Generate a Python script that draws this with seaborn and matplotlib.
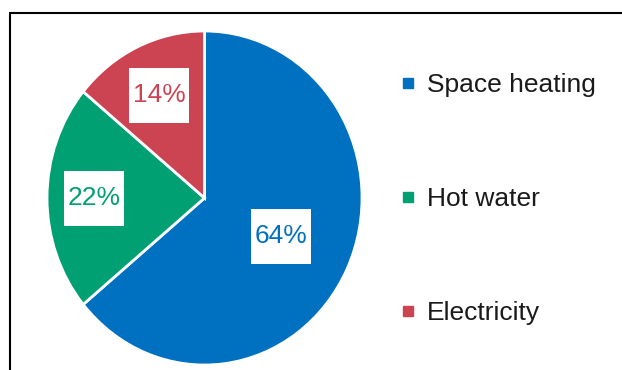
import matplotlib

matplotlib.use("Agg")
import matplotlib.pyplot as plt
import numpy as np
import seaborn as sns
from matplotlib.lines import Line2D
from matplotlib.patches import Rectangle
from matplotlib.transforms import IdentityTransform

# data
CATEGORIES = ["Space heating", "Hot water", "Electricity"]
SHARES = [64, 22, 14]
COLORS = ["#0070C0", "#00A072", "#CC4452"]
LABEL_DIST = [0.54, 0.70, 0.68]

sns.set_theme(style="white")
plt.rcParams["font.family"] = ["Liberation Sans", "DejaVu Sans"]

fig = plt.figure(figsize=(6.22, 3.70), dpi=100)
ax = fig.add_axes([0.0756, 0.0135, 0.5064, 0.9027])

wedges, texts, autotexts = ax.pie(
    SHARES,
    colors=COLORS,
    startangle=90,
    counterclock=False,
    autopct="%.0f%%",
    wedgeprops={"edgecolor": "white", "linewidth": 2},
    textprops={"fontsize": 19},
)
ax.set_aspect("auto")
ax.set_xlim(-1, 1)
ax.set_ylim(-1, 1)

# place percent labels per wedge
for w, t, d, c in zip(wedges, autotexts, LABEL_DIST, COLORS):
    mid = np.deg2rad((w.theta1 + w.theta2) / 2)
    t.set_position((d * np.cos(mid), d * np.sin(mid)))
    t.set_color(c)
    t.set_zorder(5)

fig.canvas.draw()
for t in autotexts:
    px, py = ax.transData.transform(t.get_position())
    box = Rectangle((px - 30, py - 27.5), 60, 55, transform=IdentityTransform(),
                    facecolor="white", edgecolor="none", zorder=4)
    ax.add_artist(box)
    box.set_clip_on(False)

handles = [Line2D([], [], marker="s", linestyle="none", markersize=7,
                  markerfacecolor=c, markeredgecolor=c) for c in COLORS]
fig.legend(handles, CATEGORIES, loc="center left", bbox_to_anchor=(0.600, 0.462),
           frameon=False, fontsize=19, labelspacing=3.42, handletextpad=0.35,
           handlelength=0.8, labelcolor="#1a1a1a")

# outer frame (top and left only)
fig.add_artist(Line2D([0.0155, 1.0], [1 - 12.5 / 370, 1 - 12.5 / 370], color="black", linewidth=1.5))
fig.add_artist(Line2D([0.0155, 0.0155], [0.0, 1 - 12.5 / 370], color="black", linewidth=1.5))

fig.savefig("out.png", dpi=100, facecolor="white")
